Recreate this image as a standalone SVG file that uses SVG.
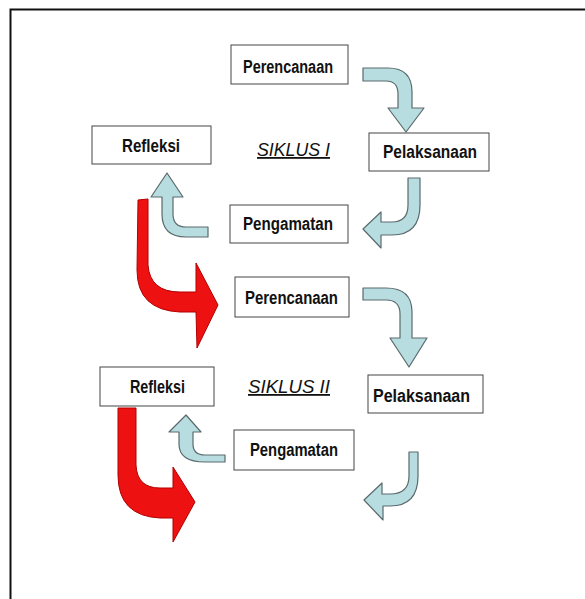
<svg xmlns="http://www.w3.org/2000/svg" width="585" height="599" viewBox="0 0 585 599">
<style>
.box{fill:#fff;stroke:#444;stroke-width:1}
.lbl{font-family:"Liberation Sans",Arial,sans-serif;font-weight:bold;font-size:18px;fill:#111}
.sik{font-family:"Liberation Sans",Arial,sans-serif;font-style:italic;font-size:18px;fill:#111;text-decoration:underline}
.blue{fill:#b8dde0;stroke:#5a6a6c;stroke-width:1.2;stroke-linejoin:round}
.red{fill:#ee1111;stroke:#b00000;stroke-width:1;stroke-linejoin:round}
</style>
<rect width="585" height="599" fill="#fff"/>
<path d="M10.5,599 V9.5 H585" fill="none" stroke="#111" stroke-width="2"/>
<g id="connectors">
<path class="blue" d="M363,68 H388 Q412,68 412,92 V108 H424 L406,132 L388,108 H398 V94 Q398,81 386,81 H363 Z"/>
<path class="blue" d="M408,178 H420 V205 Q420,235 392,235 H381 V248 L363,229 L381,212 V222 H392 Q408,222 408,205 Z"/>
<path class="blue" d="M208,227 H186 Q173,227 173,214 V197 H183 L167,173 L151,197 H162 V214 Q162,237 186,237 H208 Z"/>
<path class="blue" d="M363,288 H386 Q412,288 412,312 V338 H427 L409,367 L390,338 H400 V314 Q400,300 386,300 H363 Z"/>
<path class="blue" d="M225,455 H205 Q193,455 193,444 V432 H201 L186,415 L169,432 H179 V444 Q179,462 205,462 H225 Z"/>
<path class="blue" d="M409,452 H418 V476 Q418,506 390,506 H383 V520 L364,500 L382,483 V494 H390 Q409,494 409,476 Z"/>
<path class="red" d="M138,200 L148,199 L148,265 Q150,292 180,292 H196 V263 L218,305 L197,348 L196,312 H180 Q137,310 137,270 Z"/>
<path class="red" d="M118,408 H136 V465 Q137,488 160,488 H173 V467 L195,502 L173,542 V518 H160 Q118,516 118,475 Z"/>
</g>
<g id="perencanaan1"><rect class="box" x="231" y="45" width="117" height="39"/><text class="lbl" x="243" y="73" textLength="90" lengthAdjust="spacingAndGlyphs">Perencanaan</text></g>
<g id="pelaksanaan1"><rect class="box" x="369" y="133" width="120" height="38"/><text class="lbl" x="383" y="158" textLength="94" lengthAdjust="spacingAndGlyphs">Pelaksanaan</text></g>
<g id="siklus1"><text class="sik" x="257" y="156" textLength="73" lengthAdjust="spacingAndGlyphs">SIKLUS I</text></g>
<g id="refleksi1"><rect class="box" x="92" y="126" width="119" height="38"/><text class="lbl" x="122" y="152" textLength="58" lengthAdjust="spacingAndGlyphs">Refleksi</text></g>
<g id="pengamatan1"><rect class="box" x="230" y="205" width="118" height="38"/><text class="lbl" x="243" y="230" textLength="90" lengthAdjust="spacingAndGlyphs">Pengamatan</text></g>
<g id="perencanaan2"><rect class="box" x="235" y="277" width="114" height="40"/><text class="lbl" x="245" y="304" textLength="93" lengthAdjust="spacingAndGlyphs">Perencanaan</text></g>
<g id="pelaksanaan2"><rect class="box" x="368" y="375" width="115" height="38"/><text class="lbl" x="373" y="402" textLength="97" lengthAdjust="spacingAndGlyphs">Pelaksanaan</text></g>
<g id="refleksi2"><rect class="box" x="100" y="367" width="114" height="39"/><text class="lbl" x="130" y="393" textLength="55" lengthAdjust="spacingAndGlyphs">Refleksi</text></g>
<g id="siklus2"><text class="sik" x="248" y="393" textLength="82" lengthAdjust="spacingAndGlyphs">SIKLUS II</text></g>
<g id="pengamatan2"><rect class="box" x="234" y="430" width="120" height="40"/><text class="lbl" x="250" y="456" textLength="88" lengthAdjust="spacingAndGlyphs">Pengamatan</text></g>
</svg>
